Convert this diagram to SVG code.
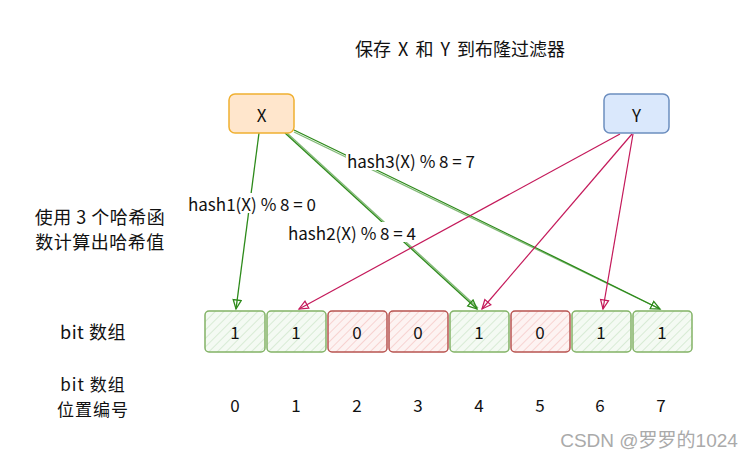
<svg xmlns="http://www.w3.org/2000/svg" width="750" height="457" viewBox="0 0 750 457">
<style>
text{font-family:"Noto Sans CJK SC","Liberation Sans",sans-serif;font-size:17px;fill:#111;text-anchor:middle;dominant-baseline:central}
.side{font-size:18px;letter-spacing:0.5px}
.side2{font-size:17px;letter-spacing:1px}
.g{fill:url(#hg);stroke:#82b366;stroke-width:1.5}
.r{fill:url(#hr);stroke:#b85450;stroke-width:1.5}
.cg{fill:none;stroke:#2d8a1a;stroke-width:1.3}
.cr{fill:none;stroke:#c4195a;stroke-width:1.2}
.lbl{fill:#fff}
</style>
<defs>
<pattern id="hg" width="6" height="6" patternUnits="userSpaceOnUse" patternTransform="rotate(45)">
<rect width="6" height="6" fill="#f4faf3"/><line x1="0" y1="0" x2="0" y2="6" stroke="#cfe6cc" stroke-width="1.5"/>
</pattern>
<pattern id="hr" width="6" height="6" patternUnits="userSpaceOnUse" patternTransform="rotate(45)">
<rect width="6" height="6" fill="#fdf3f2"/><line x1="0" y1="0" x2="0" y2="6" stroke="#f5c9c6" stroke-width="1.5"/>
</pattern>
<marker id="ag" markerWidth="12" markerHeight="12" refX="10" refY="5" orient="auto" markerUnits="userSpaceOnUse">
<path d="M1,1 L10,5 L1,9 Z" fill="none" stroke="#2d8a1a" stroke-width="1.3"/>
</marker>
<marker id="ar" markerWidth="12" markerHeight="12" refX="10" refY="5" orient="auto" markerUnits="userSpaceOnUse">
<path d="M1,1 L10,5 L1,9 Z" fill="none" stroke="#c4195a" stroke-width="1.2"/>
</marker>
</defs>
<rect width="750" height="457" fill="#fff"/>
<text id="title" x="460" y="48" style="font-size:18px;word-spacing:3px">保存 X 和 Y 到布隆过滤器</text>
<g id="side-labels">
<text class="side" x="100" y="216">使用 3 个哈希函</text>
<text class="side" x="100" y="241">数计算出哈希值</text>
<text class="side" x="93" y="331">bit 数组</text>
<text class="side2" x="93" y="383">bit 数组</text>
<text class="side2" x="93" y="408">位置编号</text>
</g>
<g id="connectors">
<path class="cg" d="M259,133 L236,309" marker-end="url(#ag)"/>
<path class="cg" d="M285,133 L477,309" marker-end="url(#ag)"/>
<path class="cg" d="M287,133 L478,308" opacity="0.6"/>
<path class="cg" d="M294,130 Q470,215 660,309" marker-end="url(#ag)"/>
<path class="cg" d="M294,132 Q470,217 658,308" opacity="0.6"/>
<path class="cr" d="M620,134 L299,309" marker-end="url(#ar)"/>
<path class="cr" d="M632,134 L482,309" marker-end="url(#ar)"/>
<path class="cr" d="M633,134 L603,309" marker-end="url(#ar)"/>
<rect class="lbl" x="188" y="193" width="128" height="20"/>
<text x="252" y="203">hash1(X) % 8 = 0</text>
<rect class="lbl" x="287" y="222" width="130" height="20"/>
<text x="352" y="232">hash2(X) % 8 = 4</text>
<rect class="lbl" x="346" y="150" width="130" height="20"/>
<text x="411" y="160">hash3(X) % 8 = 7</text>
</g>
<g id="node-X">
<rect x="229" y="94" width="65" height="39" rx="6" fill="#ffe6cc" stroke="#f0b030" stroke-width="1.5"/>
<text x="261.5" y="114">X</text>
</g>
<g id="node-Y">
<rect x="604" y="94" width="65" height="39" rx="6" fill="#dae8fc" stroke="#6c8ebf" stroke-width="1.5"/>
<text x="636.5" y="114">Y</text>
</g>
<g id="cell-0"><rect class="g" x="205" y="311" width="60" height="41" rx="4"/><text x="235" y="331">1</text></g>
<g id="cell-1"><rect class="g" x="267" y="311" width="59" height="41" rx="4"/><text x="296" y="331">1</text></g>
<g id="cell-2"><rect class="r" x="328" y="311" width="59" height="41" rx="4"/><text x="357" y="331">0</text></g>
<g id="cell-3"><rect class="r" x="389" y="311" width="59" height="41" rx="4"/><text x="418" y="331">0</text></g>
<g id="cell-4"><rect class="g" x="450" y="311" width="59" height="41" rx="4"/><text x="479" y="331">1</text></g>
<g id="cell-5"><rect class="r" x="511" y="311" width="59" height="41" rx="4"/><text x="540" y="331">0</text></g>
<g id="cell-6"><rect class="g" x="572" y="311" width="59" height="41" rx="4"/><text x="601" y="331">1</text></g>
<g id="cell-7"><rect class="g" x="633" y="311" width="59" height="41" rx="4"/><text x="662" y="331">1</text></g>
<g id="indices">
<text x="235" y="404">0</text>
<text x="296" y="404">1</text>
<text x="357" y="404">2</text>
<text x="418" y="404">3</text>
<text x="479" y="404">4</text>
<text x="540" y="404">5</text>
<text x="600" y="404">6</text>
<text x="661" y="404">7</text>
</g>
<text id="watermark" x="649" y="440" style="fill:#aaa;font-size:19px;font-family:'Liberation Sans','Noto Sans CJK SC',sans-serif">CSDN @罗罗的1024</text>
</svg>
